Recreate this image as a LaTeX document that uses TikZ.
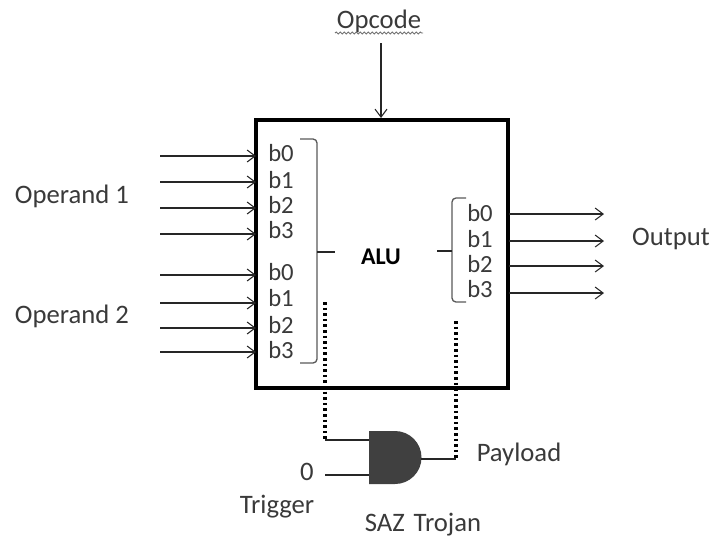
\documentclass[tikz,border=0pt]{standalone}
\usepackage{fontspec}
\setmainfont{Carlito}
\usetikzlibrary{arrows.meta,decorations.pathmorphing}
\definecolor{ink}{HTML}{3A3A3A}
\tikzset{
  x=0.75pt,y=-0.75pt,
  lab/.style={inner sep=0pt,text=ink,font=\fontsize{20}{22}\selectfont},
  bit/.style={inner sep=0pt,text=ink,font=\fontsize{18.5}{20}\selectfont,anchor=center},
  wire/.style={draw=black!85,line width=1pt},
  inarrow/.style={wire,-{Straight Barb[length=6pt,width=9pt,line width=0.8pt]}},
  brk/.style={draw=black!65,line width=1pt,rounded corners=3pt},
  tick/.style={draw=black!85,line width=1.2pt},
  dots/.style={draw=black,line width=2.4pt,dash pattern=on 2pt off 2.2pt},
}
\begin{document}
\begin{tikzpicture}
\useasboundingbox (0,0) rectangle (712,537);
% ALU box
\node[draw=black,line width=2.4pt,minimum width=189pt,minimum height=201pt,inner sep=0pt,outer sep=0pt] (alu) at (382,254) {};
\node[inner sep=0pt,text=black,font=\fontsize{18}{20}\selectfont\bfseries] (alulab) at (381,257) {ALU};
% Opcode
\node[lab] (opcode) at (379,21) {Opcode};
\coordinate (opc0) at (381,43);
\coordinate (opc1) at (381,118);
\draw[inarrow] (opc0) -- (opc1);
\draw[draw=black!55,line width=0.7pt,decorate,decoration={snake,amplitude=0.7pt,segment length=3pt}] (335,33) -- (423,33);
% operands
\node[lab] (op1) at (72,196) {Operand 1};
\node[lab] (op2) at (72,316) {Operand 2};
\node[lab] (output) at (671,239) {Output};
% left bits
\foreach \n/\t/\y/\ay in {a/b0/153/156,b/b1/180/182,c/b2/205/208,d/b3/230/234,e/b0/272/275,f/b1/298/303,g/b2/325/328,h/b3/350/352}{
  \node[bit] (l\n) at (281,\y) {\t};
  \coordinate (ls\n) at (160,\ay);
  \coordinate (le\n) at (256,\ay);
  \draw[inarrow] (ls\n) -- (le\n);
}
% right bits
\foreach \n/\t/\y/\ay in {a/b0/213/214,b/b1/239/241,c/b2/264/266,d/b3/289/293}{
  \node[bit] (r\n) at (480,\y) {\t};
  \coordinate (rs\n) at (509,\ay);
  \coordinate (re\n) at (604,\ay);
  \draw[inarrow] (rs\n) -- (re\n);
}
% braces
\coordinate (bl0) at (300,139);
\coordinate (bl1) at (317,139);
\coordinate (bl2) at (317,252);
\coordinate (bl3) at (317,363);
\coordinate (bl4) at (300,363);
\coordinate (bl5) at (335,252);
\draw[brk] (bl0) -- (bl1) -- (bl2) -- (bl3) -- (bl4);
\draw[tick] (bl2) -- (bl5);
\coordinate (br0) at (466,198);
\coordinate (br1) at (452,198);
\coordinate (br2) at (452,251);
\coordinate (br3) at (452,302);
\coordinate (br4) at (466,302);
\coordinate (br5) at (437,251);
\draw[brk] (br0) -- (br1) -- (br2) -- (br3) -- (br4);
\draw[tick] (br2) -- (br5);
% AND gate
\fill[black!75] (369,431) coordinate (gtl) -- (395,431) arc[start angle=-90,end angle=90,radius=26.5] -- (369,484) coordinate (gbl) -- cycle;
\coordinate (gin1) at (369,440);
\coordinate (gin2) at (369,475);
\coordinate (gout) at (421,459);
\coordinate (d1top) at (325,302);
\coordinate (d1bot) at (325,440);
\coordinate (d2top) at (456,321);
\coordinate (d2bot) at (456,459);
\coordinate (zero) at (325,475);
\draw[dots] (d1top) -- (d1bot);
\draw[dots] (d2top) -- (d2bot);
\draw[wire] (d1bot) -- (gin1);
\draw[wire] (zero) -- (gin2);
\draw[wire] (gout) -- (d2bot);
% labels
\node[lab] (n0) at (307,472) {0};
\node[lab] (payload) at (519,454) {Payload};
\node[lab] (trigger) at (277,507) {Trigger};
\node[lab] (saz) at (423,525) {SAZ\,\,Trojan};
\end{tikzpicture}
\end{document}
